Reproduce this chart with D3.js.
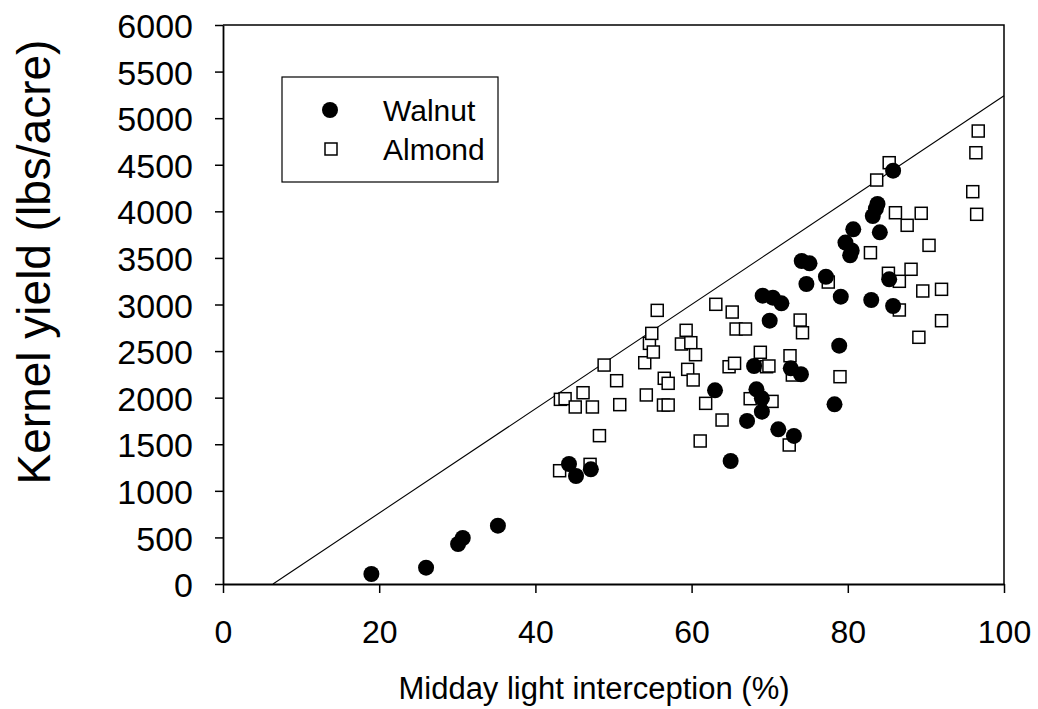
<!DOCTYPE html>
<html>
<head>
<meta charset="utf-8">
<script src="https://cdn.jsdelivr.net/npm/d3@7"></script>
<style>
  html, body { margin: 0; padding: 0; background: #fff; }
  svg { display: block; font-family: "Liberation Sans", Arial, sans-serif; }
</style>
</head>
<body>
<svg id="chart" width="1038" height="709"></svg>
<script>
// ---- Data ----
const xTicks = [0, 20, 40, 60, 80, 100];
const yTicks = [0, 500, 1000, 1500, 2000, 2500, 3000, 3500, 4000, 4500, 5000, 5500, 6000];
const seriesNames = ["Walnut", "Almond"];

const walnutX = [19.0, 26.0, 30.1, 30.7, 35.2, 44.3, 45.2, 47.1, 63.0, 65.0, 67.1, 68.0, 68.3, 69.0, 69.0,
  69.1, 70.0, 70.4, 71.1, 71.5, 72.7, 73.1, 74.1, 74.0, 74.7, 75.1, 77.2, 78.3, 78.9, 79.1, 79.7, 80.3,
  80.5, 80.7, 83.0, 83.2, 83.6, 83.8, 84.1, 85.3, 85.8, 85.8];
const walnutY = [107, 175, 429, 494, 626, 1288, 1159, 1231, 2079, 1320, 1750, 2340, 2089, 1993, 1850,
  3095, 2826, 3073, 1660, 3013, 2315, 1589, 3467, 2251, 3220, 3442, 3298, 1928, 2558, 3084, 3665, 3528,
  3580, 3807, 3048, 3950, 4030, 4079, 3775, 3270, 2984, 4436];

const almondX = [43.1, 47.0, 48.2, 43.2, 43.8, 45.1, 47.3, 46.1, 48.8, 50.8, 50.4, 54.0, 54.2, 54.6, 54.9,
  55.1, 55.6, 56.4, 57.0, 56.5, 57.0, 58.7, 59.3, 59.9, 60.5, 59.5, 60.2, 61.1, 61.8, 63.1, 63.9, 64.8,
  65.2, 65.5, 65.7, 66.9, 67.5, 68.8, 69.6, 69.9, 70.3, 72.5, 72.6, 72.9, 73.9, 74.2, 77.5, 79.0, 82.9,
  83.7, 85.3, 85.2, 86.1, 86.6, 86.6, 87.6, 88.1, 89.1, 89.4, 89.6, 90.4, 92.0, 92.0, 96.0, 96.4, 96.5, 96.7];
const almondY = [1216, 1284, 1592, 1982, 1989, 1900, 1900, 2053, 2350, 1925, 2182, 2375, 2029, 2583, 2690,
  2490, 2937, 1921, 1921, 2208, 2154, 2576, 2723, 2590, 2461, 2304, 2190, 1535, 1939, 3002, 1760, 2332,
  2919, 2369, 2737, 2737, 1989, 2487, 2332, 2340, 1960, 1492, 2450, 2243, 2833, 2697, 3241, 2225, 3556,
  4336, 4522, 3335, 3985, 3249, 2941, 3850, 3378, 2648, 3979, 3145, 3635, 3163, 2826, 4211, 4629, 3968, 4862];

// Upper boundary line endpoints (x %, y lbs/acre)
const boundaryX = [6.4, 100];
const boundaryY = [0, 5240];

// ---- Chart ----
const svg = d3.select("#chart");
const x = d3.scaleLinear().domain([0, 100]).range([223, 1004]);
const y = d3.scaleLinear().domain([0, 6000]).range([584, 25]);

// frame (top and right)
svg.append("path")
  .attr("d", `M${x(0)},${y(6000)}H${x(100)}V${y(0)}`)
  .attr("fill", "none").attr("stroke", "#000").attr("stroke-width", 1.5);

// boundary line
svg.append("line")
  .attr("x1", x(boundaryX[0])).attr("y1", y(boundaryY[0]))
  .attr("x2", x(boundaryX[1])).attr("y2", y(boundaryY[1]))
  .attr("stroke", "#000").attr("stroke-width", 1.1);

// axes
const xAxis = d3.axisBottom(x).tickValues(xTicks).tickSize(9).tickSizeOuter(0).tickPadding(27)
  .tickFormat(d3.format("d"));
const gx = svg.append("g").attr("transform", `translate(0,${y(0)})`).call(xAxis);
gx.select(".domain").attr("stroke-width", 1.8);
gx.selectAll(".tick line").attr("stroke-width", 1.5);
gx.selectAll("text").attr("font-size", 32).attr("fill", "#000")
  .attr("font-family", "'Liberation Sans', Arial, sans-serif");

const yAxis = d3.axisLeft(y).tickValues(yTicks).tickSize(8).tickSizeOuter(0).tickPadding(22)
  .tickFormat(d3.format("d"));
const gy = svg.append("g").attr("transform", `translate(${x(0)},0)`).call(yAxis);
gy.select(".domain").attr("stroke-width", 1.8);
gy.selectAll(".tick line").attr("stroke-width", 1.5);
gy.selectAll("text").attr("font-size", 34).attr("fill", "#000").attr("dy", "0.37em")
  .attr("font-family", "'Liberation Sans', Arial, sans-serif");

// almond squares
const sq = 12;
const almond = almondX.map((v, i) => ({ x: v, y: almondY[i] }));
svg.append("g").selectAll("rect").data(almond).join("rect")
  .attr("x", d => x(d.x) - sq / 2).attr("y", d => y(d.y) - sq / 2)
  .attr("width", sq).attr("height", sq)
  .attr("fill", "#fff").attr("stroke", "#000").attr("stroke-width", 1.5);

// walnut circles
const walnut = walnutX.map((v, i) => ({ x: v, y: walnutY[i] }));
svg.append("g").selectAll("circle").data(walnut).join("circle")
  .attr("cx", d => x(d.x)).attr("cy", d => y(d.y)).attr("r", 8)
  .attr("fill", "#000");

// axis titles
svg.append("text").attr("x", 594).attr("y", 699).attr("text-anchor", "middle")
  .attr("font-size", 31).attr("fill", "#000").text("Midday light interception (%)");
svg.append("text").attr("transform", "translate(50,262) rotate(-90)").attr("text-anchor", "middle")
  .attr("font-size", 46).attr("fill", "#000").text("Kernel yield (lbs/acre)");

// legend
const lg = svg.append("g");
lg.append("rect").attr("x", 282).attr("y", 77).attr("width", 216).attr("height", 105)
  .attr("fill", "#fff").attr("stroke", "#000").attr("stroke-width", 1.2);
lg.append("circle").attr("cx", 330).attr("cy", 110).attr("r", 8).attr("fill", "#000");
lg.append("rect").attr("x", 331 - sq / 2).attr("y", 149 - sq / 2).attr("width", sq).attr("height", sq)
  .attr("fill", "#fff").attr("stroke", "#000").attr("stroke-width", 1.5);
lg.append("text").attr("x", 383).attr("y", 121).attr("font-size", 30).attr("fill", "#000").text(seriesNames[0]);
lg.append("text").attr("x", 383).attr("y", 160).attr("font-size", 30).attr("fill", "#000").text(seriesNames[1]);
</script>
</body>
</html>
